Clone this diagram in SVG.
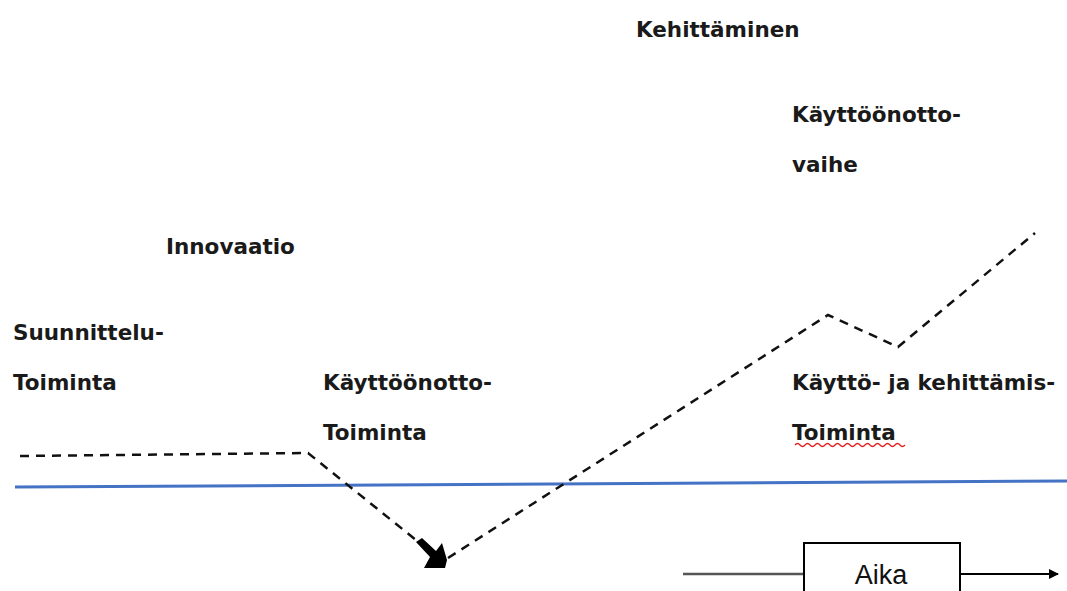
<svg xmlns="http://www.w3.org/2000/svg" width="1067" height="591" viewBox="0 0 1067 591">
<style>
.t{font-family:"DejaVu Sans","Liberation Sans",sans-serif;font-weight:bold;font-size:21.5px;fill:#1a1a1a}
.d{fill:none;stroke:#111;stroke-width:2.5;stroke-dasharray:9,7}
</style>
<defs>
<marker id="ah" viewBox="0 0 10 10" refX="9" refY="5" markerWidth="5" markerHeight="5" orient="auto">
<path d="M0,0 L10,5 L0,10 Z" fill="#000"/>
</marker>
</defs>
<rect width="1067" height="591" fill="#fff"/>
<g id="labels">
<text class="t" x="636" y="37">Kehittäminen</text>
<text class="t" x="792" y="122">Käyttöönotto-</text>
<text class="t" x="792" y="172">vaihe</text>
<text class="t" x="166" y="254">Innovaatio</text>
<text class="t" x="13" y="340">Suunnittelu-</text>
<text class="t" x="13" y="390">Toiminta</text>
<text class="t" x="323" y="390">Käyttöönotto-</text>
<text class="t" x="323" y="440">Toiminta</text>
<text class="t" x="792" y="390">Käyttö- ja kehittämis-</text>
<text class="t" x="792" y="440">Toiminta</text>
<path d="M795,445 q2.5,-3 5,0 t5,0 t5,0 t5,0 t5,0 t5,0 t5,0 t5,0 t5,0 t5,0 t5,0 t5,0 t5,0 t5,0 t5,0 t5,0 t5,0 t5,0 t5,0 t5,0 t5,0 t5,0" fill="none" stroke="#e02020" stroke-width="1.3"/>
</g>
<g id="baseline">
<line x1="15" y1="487" x2="1067" y2="481" stroke="#4472c4" stroke-width="3"/>
</g>
<g id="connectors">
<polyline class="d" points="20,456 308,453 416,540"/>
<path d="M416,542 L422,538 L436,551 L442,543 L447,560 L445,568 L424,568 L430,557 Z" fill="#000"/>
<polyline class="d" points="448,558 828,315 898,347 1035,233"/>
<line x1="683" y1="574" x2="804" y2="574" stroke="#555" stroke-width="2.5"/>
<line x1="960" y1="574" x2="1058" y2="574" stroke="#000" stroke-width="2" marker-end="url(#ah)"/>
</g>
<g id="aika">
<rect x="804" y="543" width="156" height="60" fill="#fff" stroke="#000" stroke-width="2"/>
<text x="881" y="584" text-anchor="middle" style="font-family:'Liberation Sans',Arial,sans-serif;font-size:27px;fill:#111">Aika</text>
</g>
</svg>
